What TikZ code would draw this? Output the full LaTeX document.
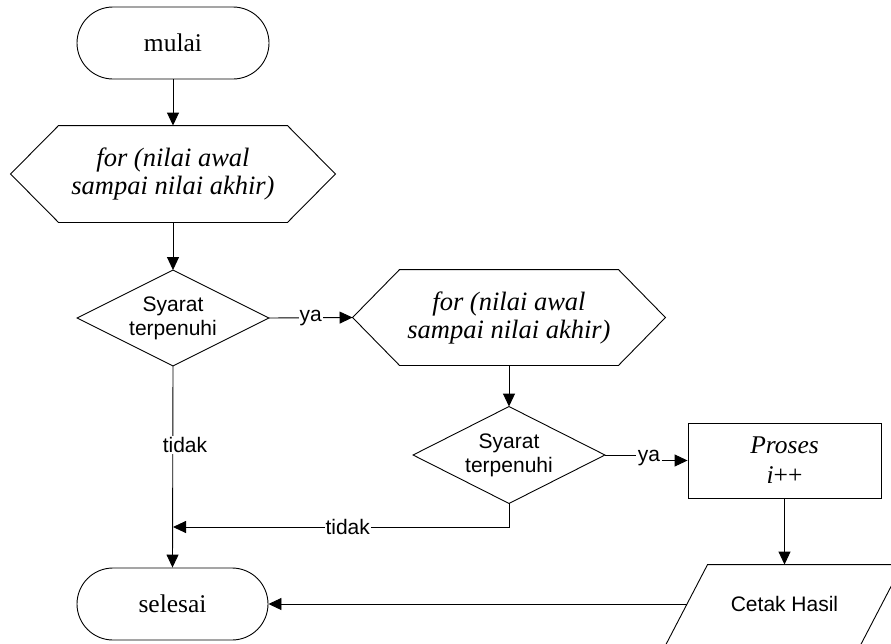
\documentclass[tikz,border=0pt]{standalone}
\usepackage{fontspec}
\setmainfont{Liberation Serif}
\setsansfont{Liberation Sans}
\usetikzlibrary{arrows.meta,shapes.misc}

% outline helpers for shapes drawn around plain rectangle nodes
\newcommand\drawhex[2]{\draw ([xshift=#2]#1.north west) -- ([xshift=-#2]#1.north east) -- (#1.east)
  -- ([xshift=-#2]#1.south east) -- ([xshift=#2]#1.south west) -- (#1.west) -- cycle;}
\newcommand\drawdiam[1]{\draw (#1.north) -- (#1.east) -- (#1.south) -- (#1.west) -- cycle;}

\begin{document}
\begin{tikzpicture}[x=1pt,y=-1pt,line width=0.9pt,
  serif/.style={font=\fontsize{25.5}{30}\selectfont},
  loopfont/.style={font=\itshape\fontsize{26.5}{28}\selectfont},
  sans/.style={font=\sffamily\fontsize{21}{24}\selectfont},
  terminal/.style={draw,rounded rectangle,inner sep=0pt,minimum width=192pt,minimum height=72pt,serif},
  shapebox/.style={rectangle,inner sep=0pt,align=center},
  arr/.style={-{Triangle[length=13pt,width=12pt]}},
  lab/.style={fill=white,inner sep=1pt,sans}]

\useasboundingbox (0,0) rectangle (891,643);
\clip (0,0) rectangle (891,643);

% nodes
\node[terminal] (mulai) at (173,43) {mulai};
\node[shapebox,loopfont,minimum width=324pt,minimum height=96pt]
  (for1) at (173,174) {for (nilai awal\\sampai nilai akhir)};
\node[shapebox,sans,minimum width=191pt,minimum height=95pt] (d1) at (173,318) {Syarat\\terpenuhi};
\node[shapebox,loopfont,minimum width=312pt,minimum height=95pt]
  (for2) at (509,317.5) {for (nilai awal\\sampai nilai akhir)};
\node[shapebox,sans,minimum width=191pt,minimum height=96pt] (d2) at (509,455) {Syarat\\terpenuhi};
\node[draw,shapebox,serif,minimum width=193pt,minimum height=75pt] (pr) at (784.5,460.5)
  {\textit{Proses}\\\textit{i}++};
\node[shapebox,sans,minimum width=194pt,minimum height=78pt] (par) at (784.5,604) {Cetak Hasil};
\node[terminal,minimum width=191pt] (selesai) at (172.5,604) {selesai};

% outlines
\drawhex{for1}{48pt}
\drawhex{for2}{47pt}
\drawdiam{d1}
\drawdiam{d2}
\draw ([xshift=-23.7pt,yshift=-6pt]par.south west) -- ([xshift=20.5pt]par.north west)
  -- ([xshift=20.5pt]par.north east) -- ([xshift=-23.7pt,yshift=-6pt]par.south east);

% connectors
\draw[arr] (mulai.south) -- (for1.north);
\draw[arr] (for1.south) -- (d1.north);
\draw[arr] (d1.east) -- node[lab]{ya} (for2.west);
\draw[arr] (for2.south) -- (d2.north);
\node[lab] (ya2) at (649,458) {ya};
\draw (d2.east) -- (ya2.west |- d2.east);
\draw[arr] (ya2.east |- pr.west) -- (pr.west);
\draw[arr] (pr.south) -- (par.north);
\draw[arr] (d1.south) -- (selesai.north);
\node[lab] at (185,445) {tidak};
\coordinate (join) at (173,527);
\draw[arr] (d2.south) |- node[lab,pos=0.74]{tidak} (join);
\draw[arr] (par.west) -- (selesai.east);
\end{tikzpicture}
\end{document}
